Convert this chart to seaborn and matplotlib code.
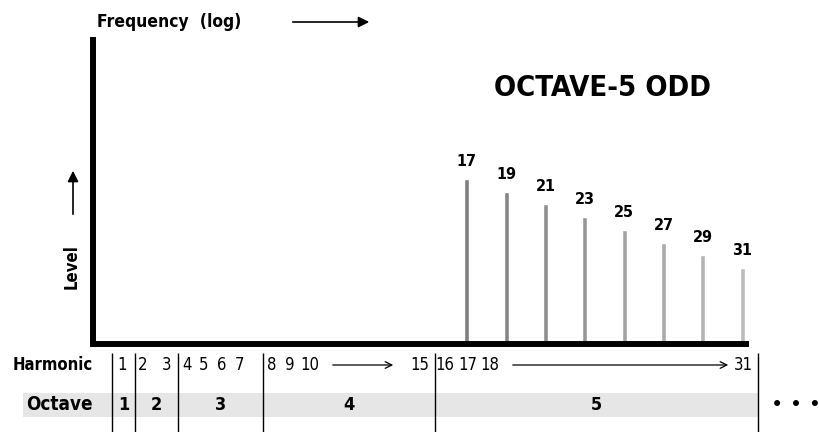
import matplotlib
matplotlib.use("Agg")
import matplotlib.pyplot as plt
import seaborn as sns
import pandas as pd

# odd harmonics of octave 5 and their relative level (0..1 of plot height)
HARMONICS = [17, 19, 21, 23, 25, 27, 29, 31]
LEVELS = [0.543, 0.500, 0.460, 0.418, 0.375, 0.332, 0.293, 0.250]
BAR_COLORS = ["#7f7f7f", "#878787", "#8f8f8f", "#979797",
              "#a3a3a3", "#ababab", "#b4b4b4", "#bcbcbc"]

HARMONIC_LABELS = ["1", "2", "3", "4", "5", "6", "7", "8", "9", "10",
                   "15", "16", "17", "18", "31"]
OCTAVE_LABELS = ["1", "2", "3", "4", "5"]

# layout (figure pixels from the top-left corner)
HARMONIC_X = [122, 143, 167, 187, 204, 222, 240, 272, 290, 310,
              420, 445, 468, 490, 743]
OCTAVE_EDGE_X = [112, 135, 178, 263, 435, 758]
W, H = 820, 432

sns.set_theme(style="white")
plt.rcParams["font.family"] = ["DejaVu Sans"]
plt.rcParams["font.stretch"] = "condensed"
plt.rcParams["text.color"] = "black"

fig = plt.figure(figsize=(W / 100, H / 100), dpi=100)

# main spectrum axes
left, right, top, base = 93.5, 746, 40, 344
ax = fig.add_axes([left / W, (H - base) / H, (right - left) / W, (base - top) / H])
df = pd.DataFrame({"harmonic": HARMONICS, "level": LEVELS})
sns.barplot(data=df, x="harmonic", y="level", hue="harmonic",
            palette=BAR_COLORS, native_scale=True, width=0.125,
            legend=False, ax=ax, saturation=1)
ax.set_xlim(-2.0, 31.2)
ax.set_ylim(0, 1)
ax.set_xticks([])
ax.set_yticks([])
ax.set_xlabel("")
ax.set_ylabel("")
for side in ["top", "right"]:
    ax.spines[side].set_visible(False)
for side in ["left", "bottom"]:
    ax.spines[side].set_linewidth(4.3)
    ax.spines[side].set_color("black")

for h, lv in zip(HARMONICS, LEVELS):
    ax.annotate(str(h), (h, lv), xytext=(0, 7), textcoords="offset points",
                ha="center", va="bottom", fontsize=11.5, fontweight="bold")

# titles and axis hints
fig.text(97 / W, 1 - 22 / H, "Frequency  (log)", ha="left", va="center",
         fontsize=12.5, fontweight="bold")
ax.annotate("", xy=(372, H - 22), xytext=(290, H - 22), xycoords="figure pixels",
            textcoords="figure pixels",
            arrowprops=dict(arrowstyle="-|>", lw=1.2, color="black", mutation_scale=16))
fig.text(603 / W, 1 - 88 / H, "OCTAVE-5 ODD", ha="center", va="center",
         fontsize=21, fontweight="bold")
fig.text(72 / W, 1 - 267 / H, "Level", ha="center", va="center", rotation=90,
         fontsize=12, fontweight="bold")
ax.annotate("", xy=(73, H - 168), xytext=(73, H - 217), xycoords="figure pixels",
            textcoords="figure pixels",
            arrowprops=dict(arrowstyle="-|>", lw=1.2, color="black", mutation_scale=16))

# harmonic / octave table
tab = fig.add_axes([0, 0, 1, (H - 350) / H])
tab.set_xlim(0, W)
tab.set_ylim(H, 350)
tab.axis("off")
tab.fill_between([23, OCTAVE_EDGE_X[-1]], 393, 417, color="#e6e6e6", lw=0)
tab.vlines(OCTAVE_EDGE_X, 353, H, color="black", lw=1)

tab.text(93, 365, "Harmonic", ha="right", va="center", fontsize=12, fontweight="bold")
for lab, x in zip(HARMONIC_LABELS, HARMONIC_X):
    tab.text(x, 365, lab, ha="center", va="center", fontsize=12)
for x0, x1 in [(330, 396), (510, 731)]:
    tab.annotate("", xy=(x1, 365), xytext=(x0, 365),
                 arrowprops=dict(arrowstyle="->", lw=0.9, color="black"))

tab.text(93, 405, "Octave", ha="right", va="center", fontsize=13.5,
         fontweight="bold")
for lab, x0, x1 in zip(OCTAVE_LABELS, OCTAVE_EDGE_X[:-1], OCTAVE_EDGE_X[1:]):
    tab.text((x0 + x1) / 2, 405, lab, ha="center", va="center",
             fontsize=13, fontweight="bold")
tab.text(771, 405, "\u2022 \u2022 \u2022", ha="left", va="center", fontsize=15,
         stretch="normal")

fig.savefig("out.png", dpi=100)
